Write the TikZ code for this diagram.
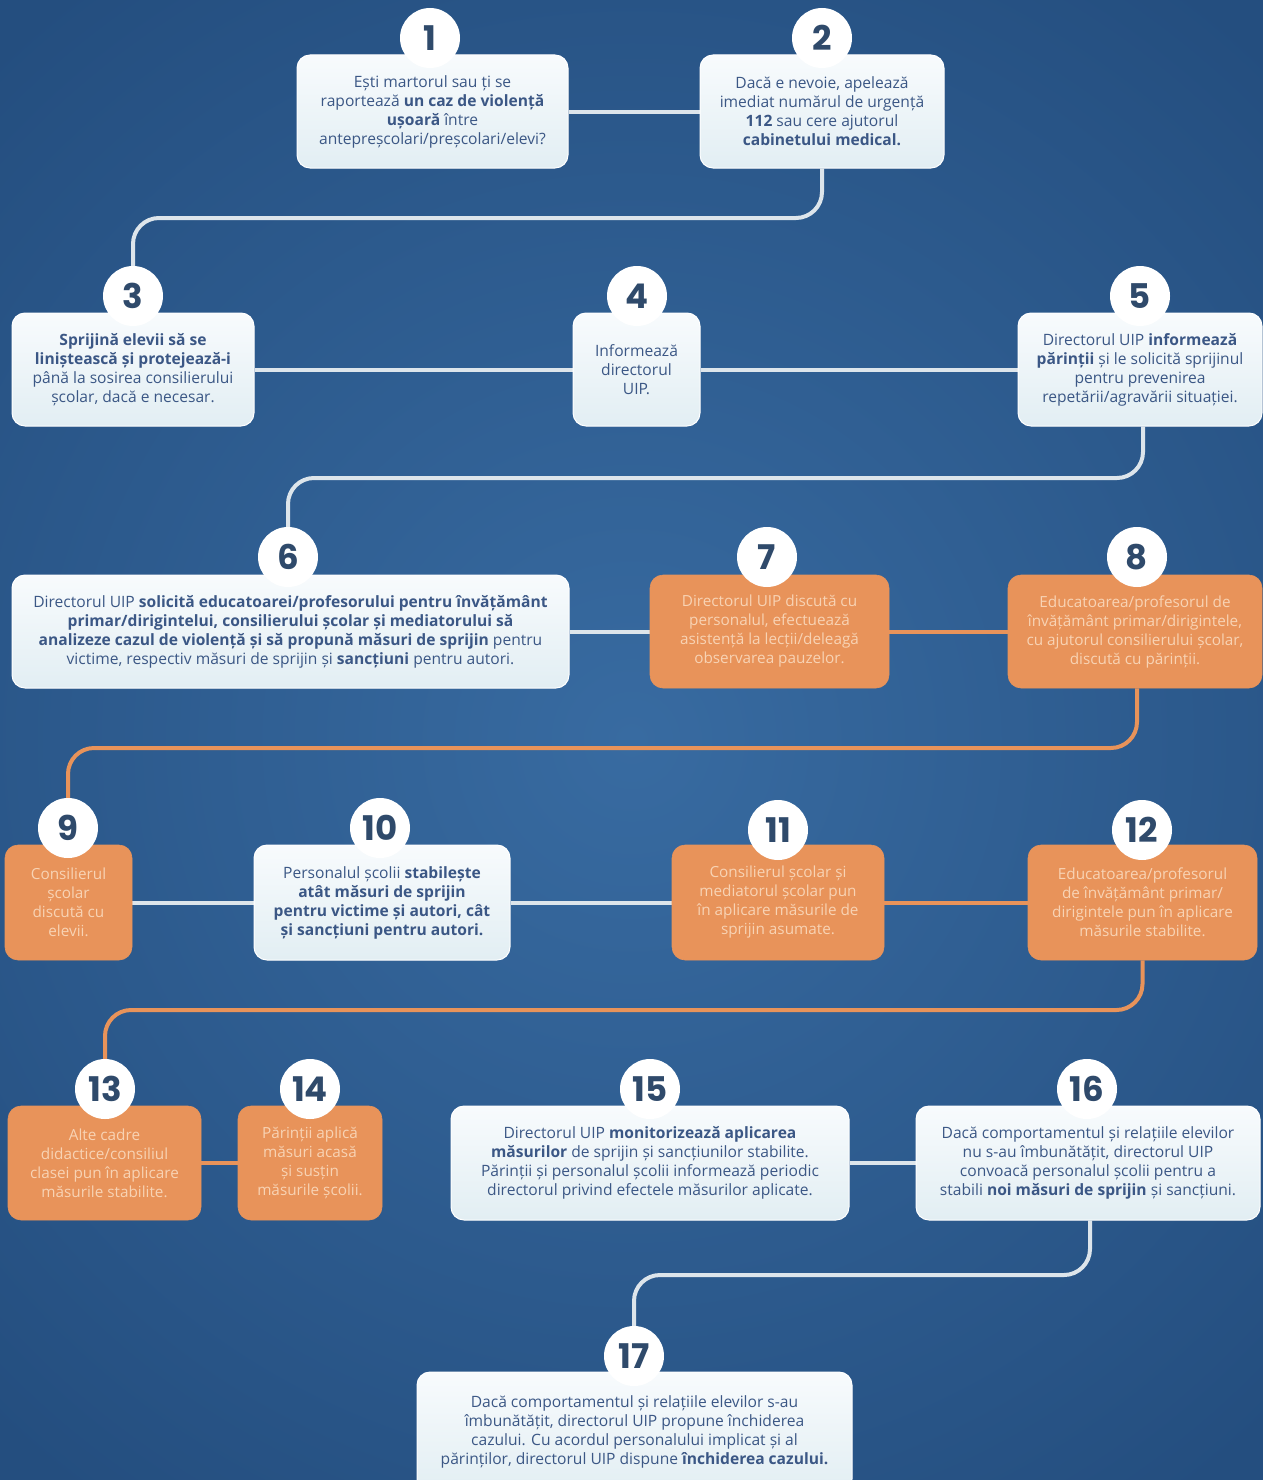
\documentclass[tikz,border=0pt]{standalone}
\usepackage{fontspec}
\setmainfont{Open Sans}
\newfontfamily\numfont{Poppins}
\usetikzlibrary{backgrounds}
\definecolor{bgA}{HTML}{386BA1}
\definecolor{bgB}{HTML}{244E7F}
\definecolor{txt}{HTML}{3B5785}
\definecolor{numc}{HTML}{2F4A6B}
\definecolor{boxtop}{HTML}{F8FBFD}
\definecolor{boxbot}{HTML}{E2EEF3}
\definecolor{orng}{HTML}{E8935A}
\definecolor{orngtxt}{HTML}{F8D3B4}
\definecolor{linew}{HTML}{DDE5EB}
\pgfdeclarelayer{back}
\pgfsetlayers{back,background,main}
\tikzset{
  wbox/.style={rectangle, rounded corners=13pt, top color=boxtop, bottom color=boxbot,
    draw=white, line width=1pt, align=center, text=txt, inner sep=0pt,
    font=\fontsize{15.6}{19}\selectfont},
  obox/.style={rectangle, rounded corners=13pt, fill=orng, draw=orng, line width=0.6pt,
    align=center, text=orngtxt, inner sep=0pt, font=\fontsize{15.3}{19}\selectfont},
  numc/.style={circle, fill=white, minimum size=60pt, inner sep=0pt, text=numc,
    font=\numfont\bfseries\fontsize{34}{34}\selectfont},
  conn/.style={draw=linew, line width=4pt, rounded corners=26pt},
  oconn/.style={draw=orng, line width=4pt, rounded corners=26pt}
}
\begin{document}
\begin{tikzpicture}[x=1pt,y=-1pt]
\useasboundingbox (0,0) rectangle (1263,1480);
\begin{pgfonlayer}{back}
  \shade[inner color=bgA, outer color=bgB] (-300,-200) rectangle (1563,1680);
\end{pgfonlayer}

% boxes
\node[wbox, minimum width=271pt, minimum height=113pt] (b1) at (432.5,111.5)
 {Ești martorul sau ți se\\raportează \textbf{un caz de violență}\\\textbf{ușoară} între\\antepreșcolari/preșcolari/elevi?};
\node[wbox, minimum width=244pt, minimum height=113pt] (b2) at (822,111.5)
 {Dacă e nevoie, apelează\\imediat numărul de urgență\\\textbf{112} sau cere ajutorul\\\textbf{cabinetului medical.}};
\node[wbox, minimum width=242pt, minimum height=113pt] (b3) at (133,369.5)
 {\textbf{Sprijină elevii să se}\\\textbf{liniștească și protejează-i}\\până la sosirea consilierului\\școlar, dacă e necesar.};
\node[wbox, minimum width=127pt, minimum height=113pt] (b4) at (636.5,369.5)
 {Informează\\directorul\\UIP.};
\node[wbox, minimum width=244pt, minimum height=113pt] (b5) at (1140,369.5)
 {Directorul UIP \textbf{informează}\\\textbf{părinții} și le solicită sprijinul\\pentru prevenirea\\repetării/agravării situației.};
\node[wbox, minimum width=557pt, minimum height=113pt] (b6) at (290.5,631.5)
 {Directorul UIP \textbf{solicită educatoarei/profesorului pentru învățământ}\\\textbf{primar/dirigintelui, consilierului școlar și mediatorului să}\\\textbf{analizeze cazul de violență și să propună măsuri de sprijin} pentru\\victime, respectiv măsuri de sprijin și \textbf{sancțiuni} pentru autori.};
\node[obox, minimum width=239pt, minimum height=113pt] (b7) at (769.5,631.5)
 {Directorul UIP discută cu\\personalul, efectuează\\asistență la lecții/deleagă\\observarea pauzelor.};
\node[obox, minimum width=254pt, minimum height=113pt] (b8) at (1135,631.5)
 {Educatoarea/profesorul de\\învățământ primar/dirigintele,\\cu ajutorul consilierului școlar,\\discută cu părinții.};
\node[obox, minimum width=127pt, minimum height=115pt] (b9) at (68.5,902.5)
 {Consilierul\\școlar\\discută cu\\elevii.};
\node[wbox, minimum width=256pt, minimum height=115pt] (b10) at (382,902.5)
 {Personalul școlii \textbf{stabilește}\\\textbf{atât măsuri de sprijin}\\\textbf{pentru victime și autori, cât}\\\textbf{și sancțiuni pentru autori.}};
\node[obox, minimum width=212pt, minimum height=115pt] (b11) at (778,902.5)
 {Consilierul școlar și\\mediatorul școlar pun\\în aplicare măsurile de\\sprijin asumate.};
\node[obox, minimum width=229pt, minimum height=115pt] (b12) at (1142.5,902.5)
 {Educatoarea/profesorul\\de învățământ primar/\\dirigintele pun în aplicare\\măsurile stabilite.};
\node[obox, minimum width=193pt, minimum height=114pt] (b13) at (104.5,1163)
 {Alte cadre\\didactice/consiliul\\clasei pun în aplicare\\măsurile stabilite.};
\node[obox, minimum width=144pt, minimum height=114pt] (b14) at (310,1163)
 {Părinții aplică\\măsuri acasă\\și susțin\\măsurile școlii.};
\node[wbox, minimum width=398pt, minimum height=114pt] (b15) at (650,1163)
 {Directorul UIP \textbf{monitorizează aplicarea}\\\textbf{măsurilor} de sprijin și sancțiunilor stabilite.\\Părinții și personalul școlii informează periodic\\directorul privind efectele măsurilor aplicate.};
\node[wbox, minimum width=344pt, minimum height=114pt] (b16) at (1088,1163)
 {Dacă comportamentul și relațiile elevilor\\nu s-au îmbunătățit, directorul UIP\\convoacă personalul școlii pentru a\\stabili \textbf{noi măsuri de sprijin} și sancțiuni.};
\node[wbox, minimum width=435pt, minimum height=120pt] (b17) at (634.5,1432)
 {Dacă comportamentul și relațiile elevilor s-au\\îmbunătățit, directorul UIP propune închiderea\\cazului. Cu acordul personalului implicat și al\\părinților, directorul UIP dispune \textbf{închiderea cazului.}};

% number circles
\node[numc] (c1) at (430,38) {1};
\node[numc] (c2) at (822,38) {2};
\node[numc] (c3) at (133,296) {3};
\node[numc] (c4) at (637,296) {4};
\node[numc] (c5) at (1140,296) {5};
\node[numc] (c6) at (288,557) {6};
\node[numc] (c7) at (767,557) {7};
\node[numc] (c8) at (1137,557) {8};
\node[numc] (c9) at (68,828) {9};
\node[numc] (c10) at (380,828) {10};
\node[numc] (c11) at (778,830) {11};
\node[numc] (c12) at (1142,830) {12};
\node[numc] (c13) at (105,1089) {13};
\node[numc] (c14) at (310,1089) {14};
\node[numc] (c15) at (650,1089) {15};
\node[numc] (c16) at (1087,1089) {16};
\node[numc] (c17) at (634,1356) {17};

% turning points
\coordinate (k23) at (0,218);
\coordinate (k56) at (0,478);
\coordinate (k89) at (0,748);
\coordinate (k1213) at (0,1010);
\coordinate (k1617) at (0,1275);

\begin{pgfonlayer}{background}
  \draw[conn] (b1) -- (b2);
  \draw[conn] (b2.south) -- (b2.south |- k23) -- (c3.center |- k23) -- (c3.center);
  \draw[conn] (b3) -- (b4);
  \draw[conn] (b4) -- (b5);
  \draw[conn] ([xshift=3pt]b5.south) -- ([xshift=3pt]b5.south |- k56) -- (c6.center |- k56) -- (c6.center);
  \draw[conn] (b6) -- (b7);
  \draw[oconn] (b7) -- (b8);
  \draw[oconn] ([xshift=2pt]b8.south) -- ([xshift=2pt]b8.south |- k89) -- (c9.center |- k89) -- (c9.center);
  \draw[conn] (b9) -- (b10);
  \draw[conn] (b10) -- (b11);
  \draw[oconn] (b11) -- (b12);
  \draw[oconn] (b12.south) -- (b12.south |- k1213) -- (c13.center |- k1213) -- (c13.center);
  \draw[oconn] (b13) -- (b14);
  \draw[conn] (b15) -- (b16);
  \draw[conn] ([xshift=2pt]b16.south) -- ([xshift=2pt]b16.south |- k1617) -- (c17.center |- k1617) -- (c17.center);
\end{pgfonlayer}
\end{tikzpicture}
\end{document}
